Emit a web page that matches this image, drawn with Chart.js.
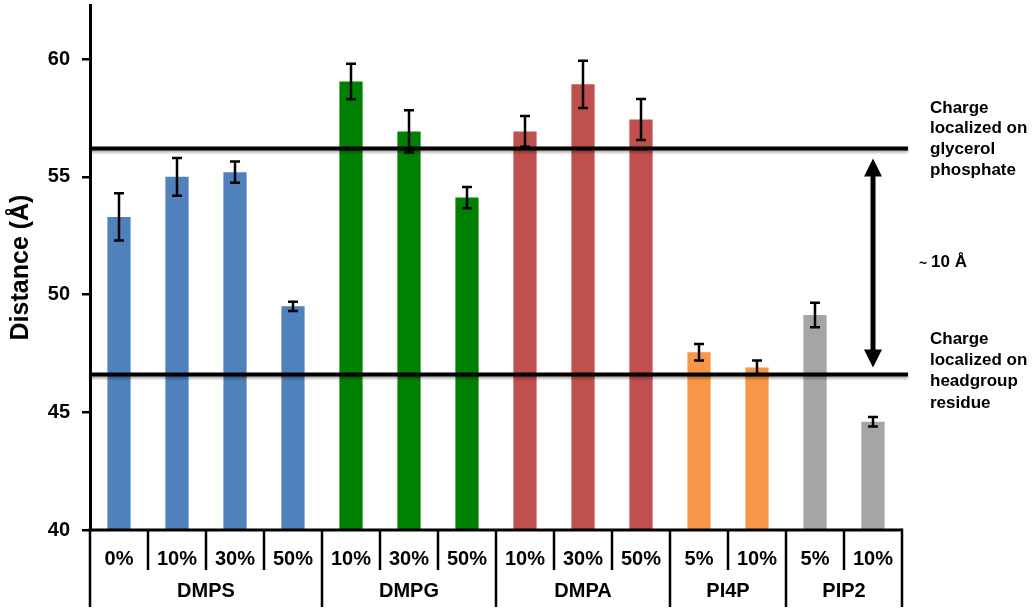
<!DOCTYPE html>
<html>
<head>
<meta charset="utf-8">
<script src="https://cdn.jsdelivr.net/npm/chart.js@4"></script>
<style>
  body { margin: 0; background: #fff; }
  #wrap { width: 1035px; height: 612px; }
</style>
</head>
<body>
<div id="wrap"><canvas id="distChart"></canvas></div>
<script>
// Data
const concLabels = ['0%', '10%', '30%', '50%', '10%', '30%', '50%', '10%', '30%', '50%', '5%', '10%', '5%', '10%'];
const lipidGroups = ['DMPS', 'DMPG', 'DMPA', 'PI4P', 'PIP2'];
const groupSizes = [4, 3, 3, 2, 2];
const distances = [53.3, 55.0, 55.2, 49.5, 59.05, 56.93, 54.12, 56.93, 58.93, 57.44, 47.55, 46.9, 49.13, 44.6];
const errors = [1.0, 0.8, 0.45, 0.2, 0.75, 0.9, 0.45, 0.65, 1.0, 0.87, 0.35, 0.3, 0.52, 0.2];
const groupColors = ['#4F81BD', '#008000', '#C0504D', '#F79646', '#A5A5A5'];
const refLines = [56.2, 46.6]; // glycerol phosphate, headgroup residue
const yTicks = [40, 45, 50, 55, 60];

const FONT = 'Arial, "Liberation Sans", Helvetica, sans-serif';
Chart.defaults.font.family = FONT;

// one colour per bar, from its lipid group
const barColors = [];
groupSizes.forEach((n, g) => {
    for (let i = 0; i < n; i++) barColors.push(groupColors[g]);
});

// error bars, reference lines, arrow, two-level x axis and notes
const extras = {
    id: 'extras',
    afterDatasetsDraw(chart) {
        const ctx = chart.ctx;
        const x = chart.scales.x;
        const y = chart.scales.y;
        const area = chart.chartArea;
        const step = x.getPixelForValue(1) - x.getPixelForValue(0);

        ctx.save();
        ctx.strokeStyle = '#000';
        ctx.fillStyle = '#000';

        // reference lines
        ctx.lineWidth = 4;
        ctx.shadowColor = 'rgba(0,0,0,0.35)';
        ctx.shadowBlur = 3;
        ctx.shadowOffsetY = 2;
        refLines.forEach(v => {
            const py = y.getPixelForValue(v);
            ctx.beginPath();
            ctx.moveTo(area.left, py);
            ctx.lineTo(area.right + 6, py);
            ctx.stroke();
        });
        ctx.shadowColor = 'transparent';

        // error bars
        ctx.lineWidth = 2.5;
        distances.forEach((v, i) => {
            const px = x.getPixelForValue(i);
            const top = y.getPixelForValue(v + errors[i]);
            const bot = y.getPixelForValue(v - errors[i]);
            ctx.beginPath();
            ctx.moveTo(px, top); ctx.lineTo(px, bot);
            ctx.moveTo(px - 5, top); ctx.lineTo(px + 5, top);
            ctx.moveTo(px - 5, bot); ctx.lineTo(px + 5, bot);
            ctx.stroke();
        });

        // double arrow between the two lines
        const ax = x.getPixelForValue(concLabels.length - 1);
        const aTop = y.getPixelForValue(refLines[0]) + 10;
        const aBot = y.getPixelForValue(refLines[1]) - 7;
        ctx.lineWidth = 5;
        ctx.beginPath();
        ctx.moveTo(ax, aTop + 15); ctx.lineTo(ax, aBot - 15);
        ctx.stroke();
        ctx.beginPath();
        ctx.moveTo(ax, aTop); ctx.lineTo(ax - 9, aTop + 18); ctx.lineTo(ax + 9, aTop + 18);
        ctx.closePath(); ctx.fill();
        ctx.beginPath();
        ctx.moveTo(ax, aBot); ctx.lineTo(ax - 9, aBot - 18); ctx.lineTo(ax + 9, aBot - 18);
        ctx.closePath(); ctx.fill();

        // x axis line and table-like labels
        const base = area.bottom;
        ctx.lineWidth = 3;
        ctx.beginPath();
        ctx.moveTo(area.left - 1.5, base); ctx.lineTo(area.right, base);
        ctx.stroke();

        ctx.lineWidth = 2.5;
        ctx.font = 'bold 20px ' + FONT;
        ctx.textAlign = 'center';
        ctx.textBaseline = 'middle';
        let idx = 0;
        groupSizes.forEach((n, g) => {
            for (let i = 0; i < n; i++) {
                const left = x.getPixelForValue(idx) - step / 2;
                const len = i === 0 ? 77 : 40;
                ctx.beginPath();
                ctx.moveTo(left, base); ctx.lineTo(left, base + len);
                ctx.stroke();
                ctx.fillText(concLabels[idx], x.getPixelForValue(idx), base + 29);
                idx++;
            }
            const gx = (x.getPixelForValue(idx - n) + x.getPixelForValue(idx - 1)) / 2;
            ctx.fillText(lipidGroups[g], gx, base + 61);
        });
        const lastX = x.getPixelForValue(idx - 1) + step / 2;
        ctx.beginPath();
        ctx.moveTo(lastX, base - 1.5); ctx.lineTo(lastX, base + 77);
        ctx.stroke();

        // notes on the right
        ctx.font = 'bold 17px ' + FONT;
        ctx.textAlign = 'left';
        const tx = area.right + 28;
        const upper = ['Charge', 'localized on', 'glycerol', 'phosphate'];
        const lower = ['Charge', 'localized on', 'headgroup', 'residue'];
        upper.forEach((t, i) => ctx.fillText(t, tx, 108 + i * 20.8));
        lower.forEach((t, i) => ctx.fillText(t, tx, 339 + i * 21.3));
        ctx.font = 'bold 14px ' + FONT;
        ctx.fillText('~', area.right + 17, 264);
        ctx.font = 'bold 17px ' + FONT;
        ctx.fillText('10 Å', area.right + 29, 262);

        // y axis title
        ctx.font = 'bold 25px ' + FONT;
        ctx.textAlign = 'center';
        ctx.translate(21, (area.top + area.bottom) / 2);
        ctx.rotate(-Math.PI / 2);
        ctx.fillText('Distance (Å)', 0, 0);

        ctx.restore();
    }
};

const ctx = document.getElementById('distChart').getContext('2d');
new Chart(ctx, {
    type: 'bar',
    data: {
        labels: concLabels,
        datasets: [{
            data: distances,
            backgroundColor: barColors,
            borderWidth: 0,
            barPercentage: 0.4,
            categoryPercentage: 1.0
        }]
    },
    options: {
        responsive: true,
        maintainAspectRatio: false,
        animation: false,
        layout: { padding: { top: 5, right: 133, bottom: 82, left: 0 } },
        plugins: {
            legend: { display: false },
            tooltip: { enabled: false }
        },
        scales: {
            x: { display: false },
            y: {
                min: 40,
                max: 62.3,
                afterBuildTicks: s => { s.ticks = yTicks.map(v => ({ value: v })); },
                afterFit: s => {
                    s.width = 90;
                    s.paddingTop = 0;
                    s.paddingBottom = 0;
                },
                border: { display: true, color: '#000', width: 3 },
                grid: { drawOnChartArea: false, drawTicks: true, tickLength: 8, color: '#000', lineWidth: 2.5 },
                ticks: {
                    color: '#000',
                    padding: 12,
                    font: { size: 20, weight: 'bold' }
                }
            }
        }
    },
    plugins: [extras]
});
</script>
</body>
</html>
